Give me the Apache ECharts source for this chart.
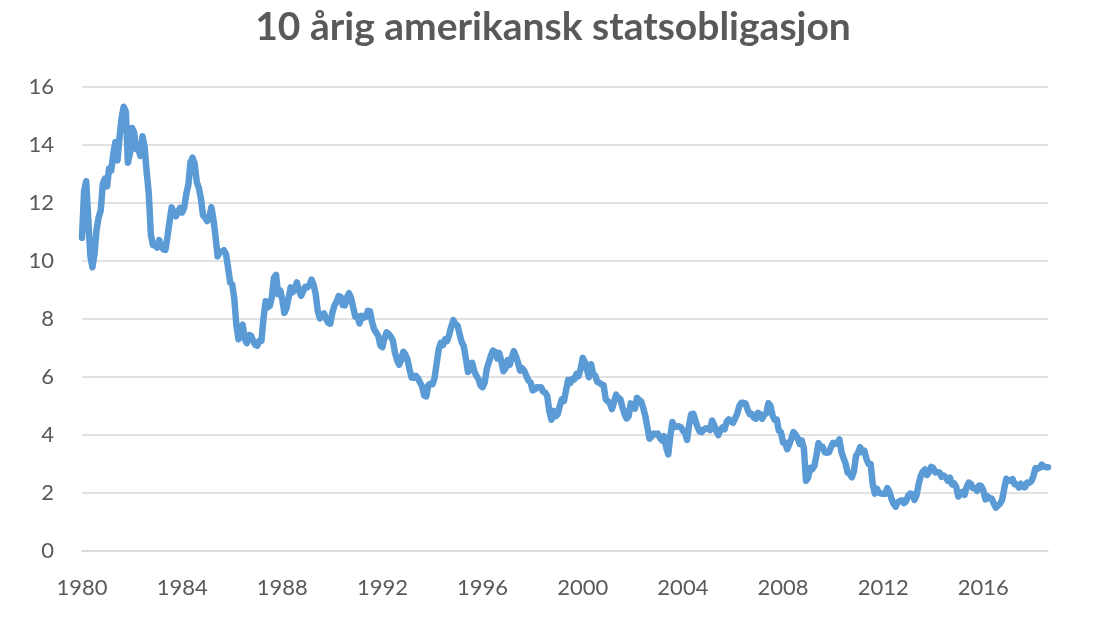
<!DOCTYPE html>
<html>
<head>
<meta charset="utf-8">
<script src="https://cdn.jsdelivr.net/npm/echarts@6/dist/echarts.min.js"></script>
<style>html,body{margin:0;padding:0;background:#fff}#c{width:1106px;height:621px}</style>
</head>
<body>
<div id="c"></div>
<script>
const title = '10 årig amerikansk statsobligasjon';
const startYear = 1980;
const yAxisTicks = [0, 2, 4, 6, 8, 10, 12, 14, 16];
// Monthly 10-year yield, Jan 1980 – Aug 2018
const y1980s = [
  10.80,12.41,12.75,11.47,10.18,9.78,10.25,11.10,11.51,11.75,12.68,12.84,
  12.57,13.19,13.12,13.68,14.10,13.47,14.28,14.94,15.32,15.15,13.39,13.72,
  14.59,14.43,13.86,13.87,13.62,14.30,13.95,13.06,12.34,10.91,10.55,10.54,
  10.46,10.72,10.51,10.40,10.38,10.85,11.38,11.85,11.65,11.54,11.69,11.83,
  11.67,11.84,12.32,12.63,13.41,13.56,13.36,12.72,12.52,12.16,11.57,11.50,
  11.38,11.51,11.86,11.43,10.85,10.16,10.31,10.33,10.37,10.24,9.78,9.26,
  9.19,8.70,7.78,7.30,7.71,7.80,7.30,7.17,7.45,7.43,7.25,7.11,
  7.08,7.25,7.25,8.02,8.61,8.40,8.45,8.76,9.42,9.52,8.86,8.99,
  8.67,8.21,8.37,8.72,9.09,8.92,9.06,9.26,8.98,8.80,8.96,9.11,
  9.09,9.17,9.36,9.18,8.86,8.28,8.02,8.11,8.19,8.01,7.87,7.84
];
const y1990s = [
  8.21,8.47,8.59,8.79,8.76,8.48,8.47,8.75,8.89,8.72,8.39,8.08,
  8.09,7.85,8.11,8.04,8.07,8.28,8.27,7.90,7.65,7.53,7.42,7.09,
  7.03,7.34,7.54,7.48,7.39,7.26,6.84,6.59,6.42,6.59,6.87,6.77,
  6.60,6.26,5.98,5.97,6.04,5.96,5.81,5.68,5.36,5.33,5.72,5.77,
  5.75,5.97,6.48,6.97,7.18,7.10,7.30,7.24,7.46,7.74,7.96,7.81,
  7.78,7.47,7.20,7.06,6.63,6.17,6.28,6.49,6.20,6.04,5.93,5.71,
  5.65,5.81,6.27,6.51,6.74,6.91,6.87,6.64,6.83,6.53,6.20,6.30,
  6.58,6.42,6.69,6.89,6.71,6.49,6.22,6.30,6.21,6.03,5.88,5.81,
  5.54,5.57,5.65,5.64,5.65,5.50,5.46,5.34,4.81,4.53,4.83,4.65,
  4.72,5.00,5.23,5.18,5.54,5.90,5.79,5.94,5.92,6.11,6.03,6.28
];
const y2000s = [
  6.66,6.52,6.26,5.99,6.44,6.10,6.05,5.83,5.80,5.74,5.72,5.24,
  5.16,5.10,4.89,5.14,5.39,5.28,5.24,4.97,4.73,4.57,4.65,5.09,
  5.04,4.91,5.28,5.21,5.16,4.93,4.65,4.26,3.87,3.94,4.05,4.03,
  4.05,3.90,3.81,3.96,3.57,3.33,3.98,4.45,4.27,4.29,4.30,4.27,
  4.15,4.08,3.83,4.35,4.72,4.73,4.50,4.28,4.13,4.10,4.19,4.23,
  4.22,4.17,4.50,4.34,4.14,4.00,4.18,4.26,4.20,4.46,4.54,4.47,
  4.42,4.57,4.72,4.99,5.11,5.11,5.09,4.88,4.72,4.73,4.60,4.56,
  4.76,4.72,4.56,4.69,4.75,5.10,5.00,4.67,4.52,4.53,4.15,4.10,
  3.74,3.74,3.51,3.68,3.88,4.10,4.01,3.89,3.69,3.81,3.53,2.42,
  2.52,2.87,2.82,2.93,3.29,3.72,3.56,3.59,3.40,3.39,3.40,3.59
];
const y2010s = [
  3.73,3.69,3.73,3.85,3.42,3.20,3.01,2.70,2.65,2.54,2.76,3.29,
  3.39,3.58,3.41,3.46,3.17,3.00,3.00,2.30,1.98,2.15,2.01,1.98,
  1.97,1.97,2.17,2.05,1.80,1.62,1.53,1.68,1.72,1.75,1.65,1.72,
  1.91,1.98,1.96,1.76,1.93,2.30,2.58,2.74,2.81,2.62,2.72,2.90,
  2.86,2.71,2.72,2.71,2.56,2.60,2.54,2.42,2.53,2.30,2.33,2.21,
  1.88,1.98,2.04,1.94,2.20,2.36,2.32,2.17,2.17,2.07,2.26,2.24,
  2.09,1.78,1.89,1.81,1.81,1.64,1.50,1.56,1.63,1.76,2.14,2.49,
  2.43,2.42,2.48,2.30,2.30,2.19,2.32,2.21,2.20,2.36,2.35,2.40,
  2.58,2.86,2.84,2.87,2.98,2.91,2.89,2.89
];
const yields = [].concat(y1980s, y1990s, y2000s, y2010s);
const months = yields.map((v, i) => {
  const yr = startYear + Math.floor(i / 12);
  const m = (i % 12) + 1;
  return yr + '-' + (m < 10 ? '0' + m : m);
});

const chart = echarts.init(document.getElementById('c'), null, {renderer: 'canvas'});
const font = 'Lato, "Open Sans", sans-serif';
chart.setOption({
  animation: false,
  backgroundColor: '#ffffff',
  title: {
    text: title,
    left: 'center',
    top: 3,
    textStyle: {fontFamily: font, fontSize: 39, fontWeight: 'bold', color: '#595959'}
  },
  grid: {left: 82, right: 58, top: 87, bottom: 70, containLabel: false},
  xAxis: {
    type: 'category',
    data: months,
    boundaryGap: false,
    axisLine: {lineStyle: {color: '#d9d9d9', width: 1.5}},
    axisTick: {show: false},
    axisLabel: {
      interval: (idx) => idx % 48 === 0,
      formatter: (v) => v.slice(0, 4),
      color: '#595959',
      fontFamily: font,
      fontSize: 22,
      margin: 26
    },
    splitLine: {show: false}
  },
  yAxis: {
    type: 'value',
    min: yAxisTicks[0],
    max: yAxisTicks[yAxisTicks.length - 1],
    interval: 2,
    axisLine: {show: false},
    axisTick: {show: false},
    axisLabel: {color: '#595959', fontFamily: font, fontSize: 22, margin: 28},
    splitLine: {lineStyle: {color: '#d9d9d9', width: 1.5}}
  },
  series: [{
    type: 'line',
    data: yields,
    showSymbol: false,
    symbol: 'none',
    lineStyle: {color: '#5b9bd5', width: 6.5, join: 'round', cap: 'round'},
    smooth: false
  }]
});
</script>
</body>
</html>
